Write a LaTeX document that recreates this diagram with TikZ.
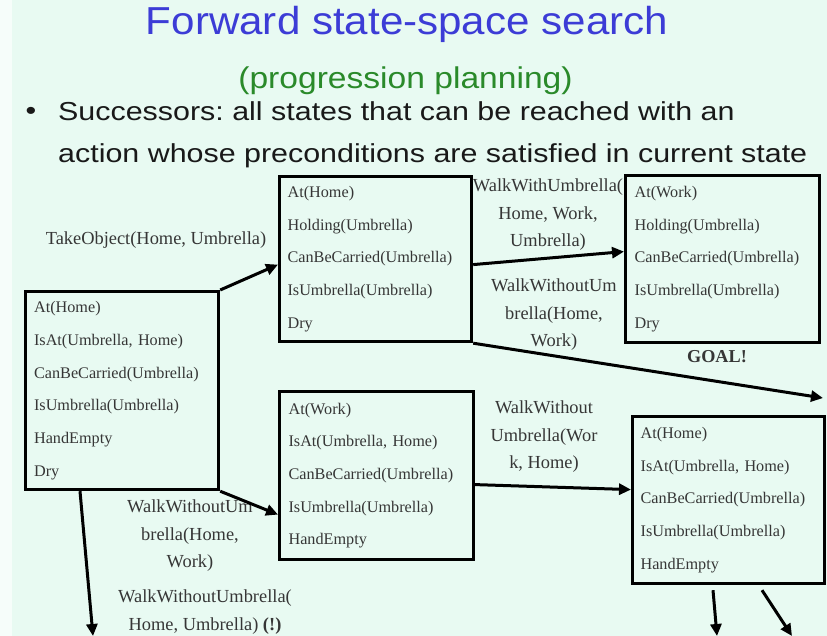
\documentclass[tikz,border=0pt]{standalone}
\usepackage{fontspec}
\setmainfont{Liberation Serif}
\newfontfamily\titlefont[FakeStretch=1.08]{Liberation Sans}
\newfontfamily\subfont[FakeStretch=1.12]{Liberation Sans}
\newfontfamily\bulletfont[FakeStretch=1.17]{Liberation Sans}
\usetikzlibrary{arrows.meta,positioning}
\definecolor{slidebg}{HTML}{E8FAF2}
\definecolor{titleblue}{HTML}{3C3CD6}
\definecolor{subgreen}{HTML}{2A8A2A}
\definecolor{facttext}{HTML}{363636}
\frenchspacing
\begin{document}
\begin{tikzpicture}[x=1pt,y=-1pt,
    state/.style={draw=black, line width=3.2pt, anchor=north west, align=left,
      text width=176pt, inner xsep=8pt, inner ysep=0pt, text=facttext,
      font=\fontsize{16.2}{32.7}\selectfont},
    act/.style={align=center, anchor=north, text=facttext,
      font=\fontsize{18.4}{27.8}\selectfont},
    arr/.style={line width=3pt, -{Triangle[length=12pt,width=11pt]}}]
    \tikzstyle{every node}+=[inner sep=0pt]
    \useasboundingbox (0,0) rectangle (827,636);
    \fill [slidebg] (0,0) rectangle (827,636);
    \fill [white!60!slidebg] (0,0) rectangle (12,636);
    \node [anchor=base, text=titleblue, font=\titlefont\fontsize{39}{39}\selectfont] (title) at (407,35) {Forward state-space search};
    \node [anchor=base, text=subgreen, font=\subfont\fontsize{30}{30}\selectfont] (sub) at (405.5,89) {(progression planning)};
    \node [anchor=base, text=black!90, font=\bulletfont\fontsize{26}{42}\selectfont] (bul) at (31,120) {\textbullet};
    \node [anchor=north west, align=left, text=black!90, font=\bulletfont\fontsize{26}{42}\selectfont] (succ) at (58,101) {Successors: all states that can be reached with an\\action whose preconditions are satisfied in current state};
    \node [state, minimum width=193pt, minimum height=198pt] (s0) at (24,290) {At(Home)\\IsAt(Umbrella, Home)\\CanBeCarried(Umbrella)\\IsUmbrella(Umbrella)\\HandEmpty\\Dry};
    \node [state, minimum width=192pt, minimum height=165pt] (s1) at (278,175) {At(Home)\\Holding(Umbrella)\\CanBeCarried(Umbrella)\\IsUmbrella(Umbrella)\\Dry};
    \node [state, minimum width=194pt, minimum height=167pt] (s2) at (624,174) {At(Work)\\Holding(Umbrella)\\CanBeCarried(Umbrella)\\IsUmbrella(Umbrella)\\Dry};
    \node [state, minimum width=194pt, minimum height=168pt] (s3) at (278,390) {At(Work)\\IsAt(Umbrella, Home)\\CanBeCarried(Umbrella)\\IsUmbrella(Umbrella)\\HandEmpty};
    \node [state, minimum width=192pt, minimum height=167pt] (s4) at (631,415) {At(Home)\\IsAt(Umbrella, Home)\\CanBeCarried(Umbrella)\\IsUmbrella(Umbrella)\\HandEmpty};
    \node [anchor=base, text=facttext, font=\bfseries\fontsize{18.2}{18.2}\selectfont] (goal) at (717,362) {GOAL!};
    \node [act] (take) at (156,231.4) {TakeObject(Home, Umbrella)};
    \node [act] (withU) at (548,178.4) {WalkWithUmbrella(\\Home, Work,\\Umbrella)};
    \node [act] (noU1) at (554,278.4) {WalkWithoutUm\\brella(Home,\\Work)};
    \node [act] (noU2) at (544,400.4) {WalkWithout\\Umbrella(Wor\\k, Home)};
    \node [act] (noU3) at (190,499.4) {WalkWithoutUm\\brella(Home,\\Work)};
    \node [act] (noU4) at (205,589.4) {WalkWithoutUmbrella(\\Home, Umbrella) \textbf{(!)}};
    \coordinate (far) at (823,398);
    \coordinate (down0) at (93,636);
    \coordinate (down1) at (717,636);
    \coordinate (down2) at (792,636);
    \draw [arr] (s0.north east) -- ([yshift=-5.5]s1.west);
    \draw [arr] ([yshift=-5.5]s1.east) -- ([yshift=7.5]s2.west);
    \draw [arr] (s1.south east) -- (far);
    \draw [arr] (s0.south east) -- ([yshift=-39]s3.west);
    \draw [arr] ([yshift=-9]s3.east) -- ([yshift=10.5]s4.west);
    \draw [arr] ([xshift=56]s0.south west) -- (down0);
    \draw [arr] ([xshift=82,yshift=-5]s4.south west) -- (down1);
    \draw [arr] ([xshift=131,yshift=-5]s4.south west) -- (down2);
\end{tikzpicture}
\end{document}
